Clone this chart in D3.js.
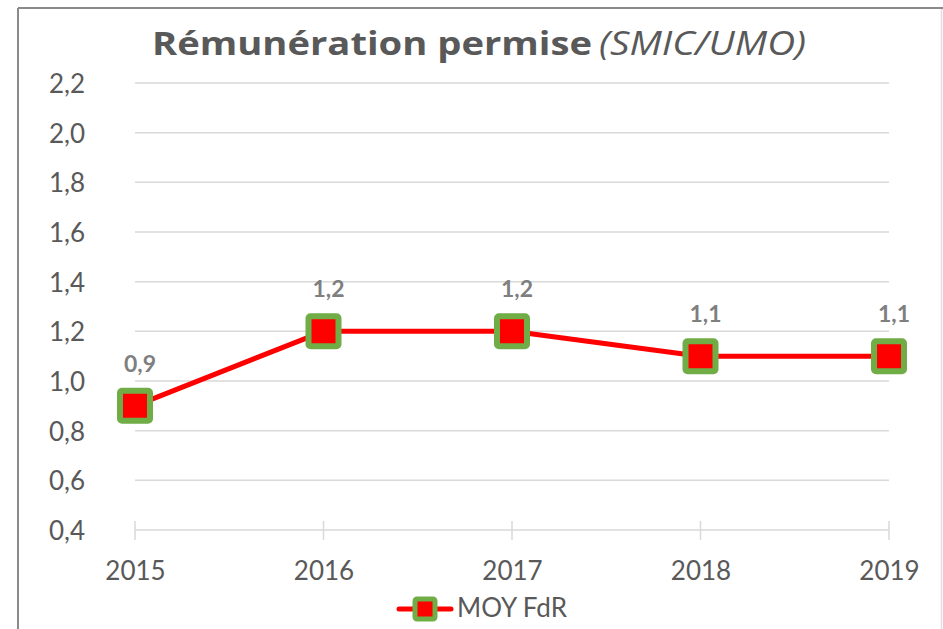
<!DOCTYPE html>
<html>
<head>
<meta charset="utf-8">
<script src="https://cdn.jsdelivr.net/npm/d3@7"></script>
<style>
  html, body { margin: 0; padding: 0; background: #fff; }
  svg { display: block; }
</style>
</head>
<body>
<svg id="chart" width="943" height="629"></svg>
<script>
const years = ["2015", "2016", "2017", "2018", "2019"];
const values = [0.9, 1.2, 1.2, 1.1, 1.1];
const yTicks = [0.4, 0.6, 0.8, 1.0, 1.2, 1.4, 1.6, 1.8, 2.0, 2.2];
const seriesName = "MOY FdR";
const titleMain = "Rémunération permise";
const titleSub = "(SMIC/UMO)";

const svg = d3.select("#chart");
const W = 943, H = 629;
const fmt = v => v.toFixed(1).replace(".", ",");

// frame
svg.append("line").attr("x1", 18).attr("x2", 943).attr("y1", 8).attr("y2", 8)
  .attr("stroke", "#8a8a8a").attr("stroke-width", 2);
svg.append("line").attr("x1", 18).attr("x2", 18).attr("y1", 8).attr("y2", H)
  .attr("stroke", "#8a8a8a").attr("stroke-width", 2);
svg.append("line").attr("x1", 941.5).attr("x2", 941.5).attr("y1", 9).attr("y2", H)
  .attr("stroke", "#e0e0e0").attr("stroke-width", 1.5);

const x = d3.scalePoint().domain(years).range([135, 889]);
const y = d3.scaleLinear().domain([0.4, 2.2]).range([530, 83]);

// gridlines
const grid = svg.append("g");
grid.selectAll("line").data(yTicks).join("line")
  .attr("x1", 135).attr("x2", 889)
  .attr("y1", d => y(d)).attr("y2", d => y(d))
  .attr("stroke", "#d9d9d9").attr("stroke-width", 1.5);

// y axis labels
const yAxis = d3.axisLeft(y).tickValues(yTicks).tickFormat(fmt).tickSize(0).tickPadding(0);
const gy = svg.append("g").attr("transform", "translate(85,0)").call(yAxis);
gy.select(".domain").remove();
gy.selectAll("text")
  .attr("font-family", "Lato, 'Open Sans', sans-serif")
  .attr("font-size", 26).attr("fill", "#595959").attr("dy", "0.36em");

// x axis
const xAxis = d3.axisBottom(x).tickSize(0).tickPadding(0);
const gx = svg.append("g").attr("transform", "translate(0,530)").call(xAxis);
gx.select(".domain").remove();
gx.selectAll("text")
  .attr("font-family", "Lato, 'Open Sans', sans-serif")
  .attr("font-size", 26).attr("fill", "#595959").attr("y", 50).attr("dy", 0);
// tick marks crossing axis
svg.append("g").selectAll("line").data(years).join("line")
  .attr("x1", d => x(d)).attr("x2", d => x(d))
  .attr("y1", 521).attr("y2", 540)
  .attr("stroke", "#d9d9d9").attr("stroke-width", 1.5);

// line
const lineGen = d3.line().x((d, i) => x(years[i])).y(d => y(d));
svg.append("path").datum(values).attr("d", lineGen)
  .attr("fill", "none").attr("stroke", "#ff0000").attr("stroke-width", 5)
  .attr("stroke-linejoin", "round");

// markers
svg.append("g").selectAll("rect").data(values).join("rect")
  .attr("x", (d, i) => x(years[i]) - 15).attr("y", d => y(d) - 15)
  .attr("width", 30).attr("height", 30).attr("rx", 2)
  .attr("fill", "#ff0000").attr("stroke", "#70ad47").attr("stroke-width", 6);

// data labels
svg.append("g").selectAll("text").data(values).join("text")
  .attr("x", (d, i) => x(years[i]) + 5).attr("y", d => y(d) - 34)
  .attr("text-anchor", "middle")
  .attr("font-family", "Lato, 'Open Sans', sans-serif")
  .attr("font-weight", "bold").attr("font-size", 23).attr("fill", "#7f7f7f")
  .text(fmt);

// title
svg.append("text").attr("x", 152).attr("y", 55)
  .attr("font-family", "'Open Sans', Lato, sans-serif").attr("fill", "#595959")
  .attr("font-weight", "bold").attr("font-size", 33)
  .attr("textLength", 440).attr("lengthAdjust", "spacingAndGlyphs")
  .text(titleMain);
svg.append("text").attr("x", 599).attr("y", 55)
  .attr("font-family", "'Open Sans', Lato, sans-serif").attr("fill", "#595959")
  .attr("font-style", "italic").attr("font-size", 32)
  .attr("textLength", 207).attr("lengthAdjust", "spacingAndGlyphs")
  .text(titleSub);

// legend
const lg = svg.append("g");
lg.append("line").attr("x1", 399).attr("x2", 451).attr("y1", 609).attr("y2", 609)
  .attr("stroke", "#ff0000").attr("stroke-width", 5).attr("stroke-linecap", "round");
lg.append("rect").attr("x", 415).attr("y", 599).attr("width", 20).attr("height", 20).attr("rx", 2)
  .attr("fill", "#ff0000").attr("stroke", "#70ad47").attr("stroke-width", 5);
lg.append("text").attr("x", 457).attr("y", 617)
  .attr("font-family", "Lato, 'Open Sans', sans-serif").attr("font-size", 26).attr("fill", "#595959")
  .text(seriesName);
</script>
</body>
</html>
